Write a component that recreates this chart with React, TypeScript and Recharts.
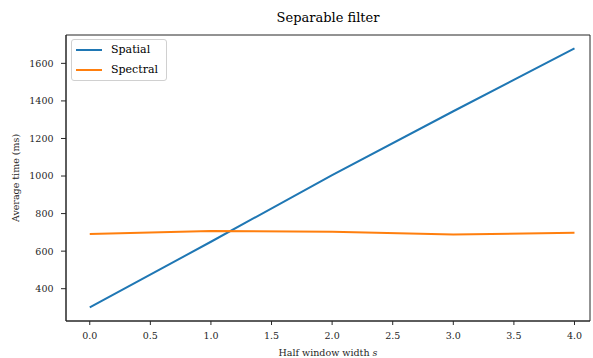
import React from 'react';
import { LineChart, Line, XAxis, YAxis, ReferenceArea } from 'recharts';

const halfWidths = [0, 1, 2, 3, 4];
const spatial = [300, 650, 1005, 1345, 1680];
const spectral = [691, 707, 703, 689, 698];
const xTicks = [0, 0.5, 1, 1.5, 2, 2.5, 3, 3.5, 4];
const yTicks = [400, 600, 800, 1000, 1200, 1400, 1600];

const data = halfWidths.map((s, i) => ({ s, spatial: spatial[i], spectral: spectral[i] }));

const FONT = '"DejaVu Serif", serif';
const X_DOMAIN: [number, number] = [-0.196, 4.128];
const Y_DOMAIN: [number, number] = [228, 1751];
const INK = '#262626';

const Legend2 = () => (
  <div
    style={{
      position: 'absolute',
      left: 71,
      top: 39,
      width: 96,
      height: 42,
      boxSizing: 'border-box',
      border: '1px solid #d0d0d0',
      borderRadius: 3,
      background: 'rgba(255,255,255,0.8)',
      fontFamily: FONT,
      fontSize: 11,
      color: '#000',
    }}
  >
    {[
      { name: 'Spatial', color: '#1f77b4' },
      { name: 'Spectral', color: '#ff7f0e' },
    ].map((e, i) => (
      <div key={e.name} style={{ position: 'absolute', left: 4, top: 2 + i * 20, height: 16, display: 'flex', alignItems: 'center' }}>
        <div style={{ width: 26, height: 2, background: e.color }} />
        <span style={{ marginLeft: 9, lineHeight: '16px', whiteSpace: 'nowrap' }}>{e.name}</span>
      </div>
    ))}
  </div>
);

export default function App() {
  return (
    <div style={{ position: 'absolute', left: 0, top: 0, width: 593, height: 358, background: '#fff' }}>
      <LineChart width={593} height={358} data={data} margin={{ top: 35, right: 3, left: 0, bottom: 0 }}>
        <XAxis
          dataKey="s"
          type="number"
          domain={X_DOMAIN}
          ticks={xTicks}
          allowDataOverflow
          tickFormatter={(v: number) => v.toFixed(1)}
          height={37}
          stroke={INK}
          tickLine={{ stroke: INK }}
          tickSize={4}
          tickMargin={7}
          tick={{ fill: INK, fontSize: 9.5, fontFamily: FONT }}
        />
        <YAxis
          type="number"
          domain={Y_DOMAIN}
          ticks={yTicks}
          allowDataOverflow
          width={66}
          stroke={INK}
          tickSize={5}
          tickMargin={7.5}
          tick={{ fill: INK, fontSize: 9.5, fontFamily: FONT }}
          label={{ value: 'Average time (ms)', angle: -90, position: 'insideLeft', offset: 16, style: { textAnchor: 'middle', fontSize: 9.5, fontFamily: FONT, fill: INK } }}
        />
        <ReferenceArea x1={X_DOMAIN[0]} x2={X_DOMAIN[1]} y1={Y_DOMAIN[0]} y2={Y_DOMAIN[1]} fill="none" stroke={INK} strokeWidth={1} fillOpacity={0} ifOverflow="visible" />
        <Line dataKey="spatial" stroke="#1f77b4" strokeWidth={2} dot={false} isAnimationActive={false} />
        <Line dataKey="spectral" stroke="#ff7f0e" strokeWidth={2} dot={false} isAnimationActive={false} />
      </LineChart>
      <div style={{ position: 'absolute', left: 0, width: 656, top: 9, lineHeight: '18px', textAlign: 'center', fontFamily: FONT, fontSize: 13, color: '#000' }}>
        Separable filter
      </div>
      <div style={{ position: 'absolute', left: 0, width: 656, top: 346, lineHeight: '14px', textAlign: 'center', fontFamily: FONT, fontSize: 9.5, color: INK, whiteSpace: 'nowrap' }}>
        Half window width <i>s</i>
      </div>
      <Legend2 />
    </div>
  );
}
